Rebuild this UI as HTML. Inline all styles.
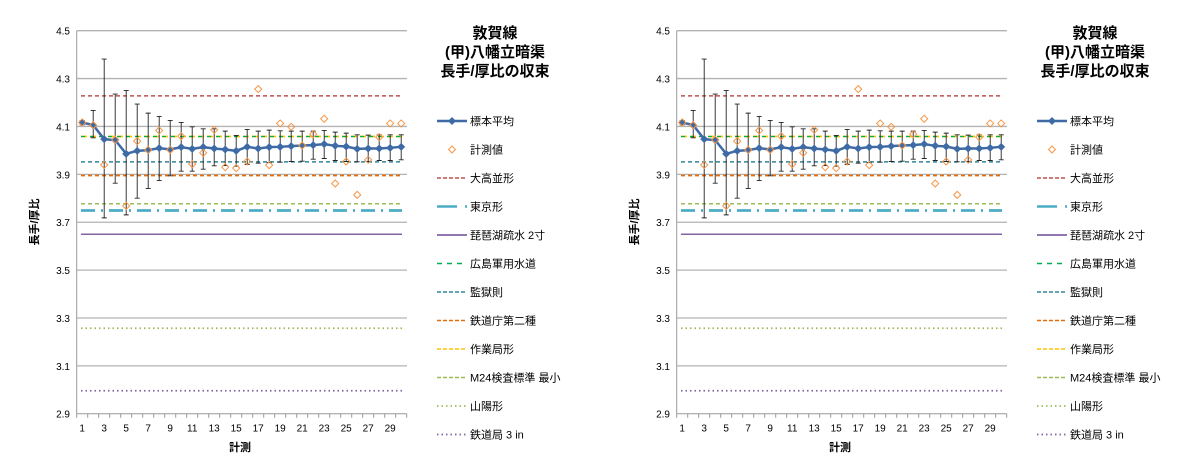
<!DOCTYPE html>
<html><head><meta charset="utf-8"><style>
html,body{margin:0;padding:0;background:#fff;}
body{width:1200px;height:467px;overflow:hidden;position:relative;}
svg{position:absolute;top:0;}
text{font-family:"Liberation Sans","Noto Sans CJK JP",sans-serif;fill:#000;}
</style></head><body>
<div id="c"></div>
<script>
(function(){
var X0=76.7,W=11;
function Y(v){return 30.7+(4.5-v)*239.4;}
function X(i){return X0+W*(i-0.5);}
function zv(z){return 4.1-(z-380)/717.5;}
var mean=[368,376,418,421,462,453,451,445,449,442,447,442,446,449,453,441,446,442,441,439,437,436,433,438,440,447,446,446,444,441];
var ebTop=[362,332,178,283,272,313,340,350,362,368,381,387,387,394,407,389,394,391,393,394,394,394,392,397,400,405,406,405,405,405];
var ebBot=[375,414,654,550,645,595,566,542,528,514,514,508,498,497,499,494,490,488,487,485,484,478,476,482,485,486,485,482,482,480];
var pts=[368,376,495,420,618,424,450,392,450,409,493,459,390,502,505,485,268,496,371,381,437,403,357,551,485,585,480,412,371,371];
var s='';
for(var k=0;k<=8;k++){var v=2.9+k*0.2,y=Y(v);
 if(k>0) s+='<line x1="'+X0+'" x2="407" y1="'+y+'" y2="'+y+'" stroke="#b3b3b3" stroke-width="1.3"/>';
 s+='<text x="70" y="'+(y+4)+'" font-size="10" text-anchor="end">'+v.toFixed(1)+'</text>';}
var yb=Y(2.9);
s+='<line x1="'+X0+'" x2="'+X0+'" y1="30.7" y2="'+yb+'" stroke="#999"/>';
s+='<line x1="'+X0+'" x2="407" y1="'+yb+'" y2="'+yb+'" stroke="#999"/>';
for(var i=0;i<=30;i++){var x=X0+W*i;s+='<line x1="'+x+'" x2="'+x+'" y1="'+yb+'" y2="'+(yb+4)+'" stroke="#999"/>';}
for(var i=1;i<=29;i+=2)s+='<text x="'+X(i)+'" y="'+(yb+18)+'" font-size="10" text-anchor="middle">'+i+'</text>';
var refs=[[4.228,'#c0504d','4,3',1.5],[4.058,'#ffc000','6,3',1.8],[4.058,'#00b050','4,5',1.2],[3.952,'#31859c','4,3',1.5],[3.895,'#e46c0a','4,3',1.8],[3.777,'#9bbb59','4,3',1.5],[3.749,'#4bacc6','14,6,2,6',2.8],[3.65,'#8064a2','',1.5],[3.257,'#9bbb59','1.5,3',1.8],[2.996,'#8064a2','1.5,3',1.8]];
refs.forEach(function(r){var y=Y(r[0]);s+='<line x1="81" x2="402" y1="'+y+'" y2="'+y+'" stroke="'+r[1]+'" stroke-width="'+r[3]+'" '+(r[2]?'stroke-dasharray="'+r[2]+'"':'')+'/>';});
for(var i=0;i<30;i++){var x=X(i+1),a=Y(zv(ebTop[i])),b=Y(zv(ebBot[i]));
 s+='<path d="M'+x+' '+a+'V'+b+'M'+(x-2.5)+' '+a+'h5M'+(x-2.5)+' '+b+'h5" stroke="#222" stroke-width="0.9" fill="none"/>';}
var d='';for(var i=0;i<30;i++)d+=(i?'L':'M')+X(i+1)+' '+Y(zv(mean[i]));
s+='<path d="'+d+'" stroke="#3e6aa5" stroke-width="2.5" fill="none"/>';
for(var i=0;i<30;i++){var x=X(i+1),y=Y(zv(mean[i]));s+='<path d="M'+x+' '+(y-4)+'l4 4l-4 4l-4 -4z" fill="#3e6aa5"/>';}
for(var i=0;i<30;i++){var x=X(i+1),y=Y(zv(pts[i]));s+='<path d="M'+x+' '+(y-3.5)+'l3.5 3.5l-3.5 3.5l-3.5 -3.5z" fill="none" stroke="#f79646" stroke-width="1"/>';}
s+='<text transform="translate(38,222) rotate(-90)" font-size="11" font-weight="bold" text-anchor="middle">長手/厚比</text>';
s+='<text x="240" y="451" font-size="11" font-weight="bold" text-anchor="middle">計測</text>';
['敦賀線','(甲)八幡立暗渠','長手/厚比の収束'].forEach(function(t,k){s+='<text x="495" y="'+(38+k*19)+'" font-size="15" font-weight="bold" text-anchor="middle">'+t+'</text>';});
var lg=[['標本平均','#3e6aa5','',2.5],['計測値','','',0],['大高並形','#c0504d','4,2',1.5],['東京形','#4bacc6','20,8,2,6',2.5],['琵琶湖疏水 2寸','#8064a2','',1.8],['広島軍用水道','#00b050','5,5',1.5],['監獄則','#31859c','4,2',1.5],['鉄道庁第二種','#e46c0a','4,2',1.5],['作業局形','#ffc000','4,2',1.5],['M24検査標準 最小','#9bbb59','4,2',1.5],['山陽形','#9bbb59','1.5,3',1.8],['鉄道局 3 in','#8064a2','1.5,3',1.8]];
lg.forEach(function(l,k){var y=121+k*28.5;
 if(l[1]) s+='<line x1="437" x2="467" y1="'+y+'" y2="'+y+'" stroke="'+l[1]+'" stroke-width="'+l[3]+'" '+(l[2]?'stroke-dasharray="'+l[2]+'"':'')+'/>';
 if(k==0) s+='<path d="M452 '+(y-4)+'l4 4l-4 4l-4 -4z" fill="#3e6aa5"/>';
 if(k==1) s+='<path d="M452 '+(y-3.5)+'l3.5 3.5l-3.5 3.5l-3.5 -3.5z" fill="none" stroke="#f79646"/>';
 s+='<text x="470" y="'+(y+4)+'" font-size="11">'+l[0]+'</text>';});
document.getElementById('c').innerHTML='<svg width="600" height="467" style="left:0">'+s+'</svg><svg width="600" height="467" style="left:600px">'+s+'</svg>';
})();
</script>
</body></html>
